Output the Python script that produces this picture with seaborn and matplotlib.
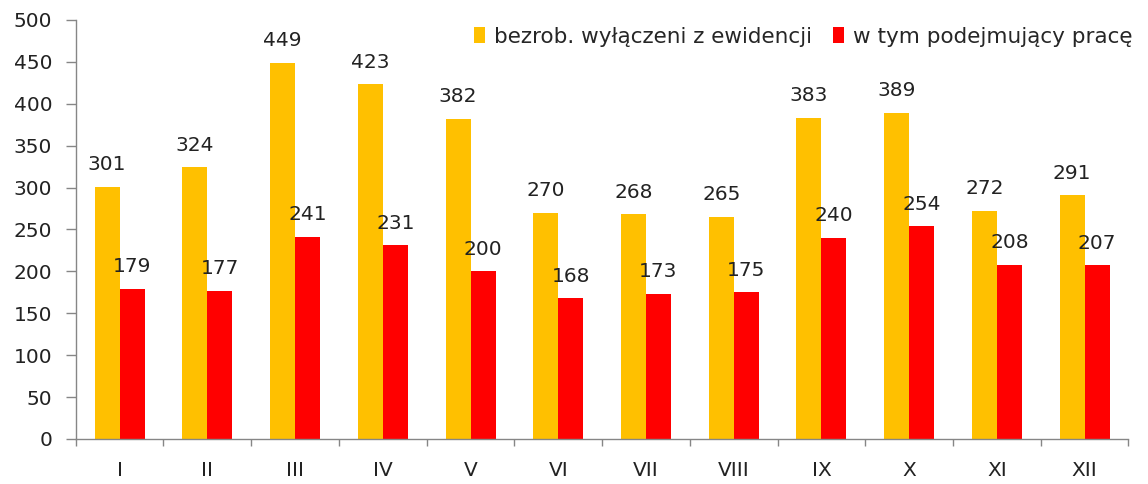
import numpy as np
import pandas as pd
import matplotlib
matplotlib.use("Agg")
import matplotlib.pyplot as plt
import seaborn as sns

months = ["I", "II", "III", "IV", "V", "VI", "VII", "VIII", "IX", "X", "XI", "XII"]
wylaczeni = [301, 324, 449, 423, 382, 270, 268, 265, 383, 389, 272, 291]
podejmujacy = [179, 177, 241, 231, 200, 168, 173, 175, 240, 254, 208, 207]
series = ["bezrob. wyłączeni z ewidencji", "w tym podejmujący pracę"]
colors = ["#FFC000", "#FF0000"]

df = pd.DataFrame({
    "miesiac": months * 2,
    "wartosc": wylaczeni + podejmujacy,
    "seria": [series[0]] * 12 + [series[1]] * 12,
})

sns.set_style("white")
plt.rcParams["font.family"] = ["DejaVu Sans"]

fig = plt.figure(figsize=(11.48, 4.84), dpi=100)
ax = fig.add_axes([0.066, 0.093, 0.917, 0.866])

sns.barplot(data=df, x="miesiac", y="wartosc", hue="seria", order=months,
            hue_order=series, palette=colors, width=0.57, gap=0,
            saturation=1, ax=ax, errorbar=None, linewidth=0)

# value labels
for cont in ax.containers:
    for bar in cont:
        h = bar.get_height()
        ax.annotate(f"{h:.0f}", (bar.get_x() + bar.get_width() / 2, h),
                    xytext=(0, 9), textcoords="offset points",
                    ha="center", va="bottom", fontsize=14.5, color="#222222")

ax.set_xlim(-0.5, 11.5)
ax.set_ylim(0, 500)
ax.set_yticks(np.arange(0, 501, 50))
ax.set_xlabel("")
ax.set_ylabel("")

ax.set_xticks(np.arange(-0.5, 12, 1), minor=True)
ax.tick_params(axis="x", which="major", bottom=True, length=0, pad=16,
               labelsize=14.5, colors="#222222")
ax.tick_params(axis="x", which="minor", bottom=True, length=5, width=1,
               color="#868686", direction="out")
ax.tick_params(axis="y", left=True, length=7, width=1, color="#868686",
               direction="out", labelsize=14.5, labelcolor="#222222", pad=10)

for s in ["top", "right"]:
    ax.spines[s].set_visible(False)
for s in ["left", "bottom"]:
    ax.spines[s].set_color("#868686")
    ax.spines[s].set_linewidth(1)

leg = ax.legend(loc="upper right", bbox_to_anchor=(1.022, 1.03), ncol=2, frameon=False,
                fontsize=15.5, handlelength=0.5, handleheight=0.8, handletextpad=0.4,
                columnspacing=1.0)

fig.savefig("out.png", dpi=100)
